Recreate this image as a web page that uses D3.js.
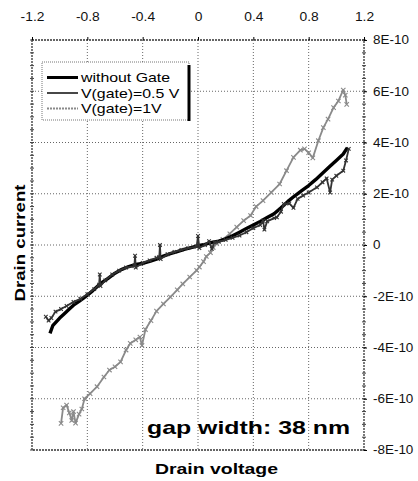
<!DOCTYPE html>
<html>
<head>
<meta charset="utf-8">
<script src="https://cdn.jsdelivr.net/npm/d3@7"></script>
<style>
body { margin: 0; background: #fff; }
text { font-family: "Liberation Sans", Arial, sans-serif; }
</style>
</head>
<body>
<div id="graphArea"></div>
<script>
// drain voltage in V, drain current in units of 1E-10 A
var vNoGate = [-1.07, -1.05, -1.0, -0.97, -0.93, -0.90, -0.86, -0.83, -0.80, -0.76, -0.72, -0.69, -0.65, -0.60, -0.55, -0.50, -0.45, -0.40, -0.35, -0.30, -0.25, -0.20, -0.15, -0.10, -0.05, 0.0, 0.05, 0.10, 0.15, 0.20, 0.25, 0.30, 0.35, 0.40, 0.45, 0.50, 0.55, 0.60, 0.65, 0.70, 0.75, 0.80, 0.85, 0.90, 0.95, 1.00, 1.05, 1.08];
var iNoGate = [-3.45, -3.15, -2.85, -2.70, -2.50, -2.35, -2.20, -2.08, -1.96, -1.78, -1.58, -1.45, -1.30, -1.10, -0.95, -0.84, -0.76, -0.72, -0.64, -0.55, -0.43, -0.34, -0.26, -0.17, -0.10, -0.03, 0.02, 0.10, 0.15, 0.24, 0.36, 0.50, 0.64, 0.78, 0.92, 1.07, 1.22, 1.45, 1.70, 1.92, 2.12, 2.32, 2.55, 2.80, 3.05, 3.30, 3.55, 3.80];

var vGate05 = [-1.10, -1.08, -1.06, -1.03, -0.99, -0.95, -0.90, -0.85, -0.80, -0.75, -0.715, -0.71, -0.705, -0.67, -0.62, -0.57, -0.52, -0.46, -0.455, -0.45, -0.40, -0.35, -0.30, -0.28, -0.275, -0.27, -0.22, -0.17, -0.12, -0.07, -0.01, 0.0, 0.01, 0.05, 0.08, 0.10, 0.12, 0.15, 0.20, 0.25, 0.30, 0.35, 0.40, 0.45, 0.47, 0.48, 0.50, 0.55, 0.57, 0.60, 0.62, 0.66, 0.69, 0.72, 0.76, 0.80, 0.86, 0.90, 0.93, 0.955, 0.97, 1.00, 1.05, 1.07, 1.09];
var iGate05 = [-2.80, -2.95, -2.85, -2.60, -2.50, -2.38, -2.22, -2.10, -1.92, -1.72, -1.55, -1.15, -1.60, -1.38, -1.15, -1.00, -0.88, -0.82, -0.42, -0.88, -0.70, -0.60, -0.50, -0.47, 0.0, -0.55, -0.36, -0.27, -0.19, -0.12, -0.06, 0.35, -0.12, 0.0, 0.15, -0.15, 0.10, 0.12, 0.20, 0.28, 0.37, 0.50, 0.66, 0.78, 0.95, 0.60, 0.92, 1.05, 1.08, 1.30, 1.60, 1.62, 1.45, 1.80, 1.93, 2.05, 2.25, 2.45, 2.60, 2.05, 2.55, 2.70, 2.90, 3.30, 3.75];

var vGate1 = [-0.99, -0.975, -0.95, -0.93, -0.913, -0.90, -0.885, -0.86, -0.84, -0.82, -0.78, -0.73, -0.68, -0.64, -0.60, -0.56, -0.52, -0.49, -0.45, -0.42, -0.405, -0.38, -0.34, -0.30, -0.25, -0.20, -0.15, -0.11, -0.06, -0.01, 0.01, 0.04, 0.06, 0.09, 0.11, 0.135, 0.18, 0.23, 0.28, 0.33, 0.38, 0.42, 0.47, 0.53, 0.59, 0.64, 0.69, 0.74, 0.77, 0.80, 0.83, 0.87, 0.906, 0.94, 0.98, 1.015, 1.05, 1.065, 1.075];
var iGate1 = [-6.96, -6.35, -6.25, -6.55, -6.85, -6.50, -6.95, -6.60, -6.40, -6.00, -5.80, -5.53, -5.15, -4.88, -4.75, -4.56, -4.10, -3.84, -3.70, -3.59, -3.92, -3.30, -2.95, -2.58, -2.30, -2.03, -1.75, -1.52, -1.25, -0.99, -0.86, -0.65, -0.45, -0.30, -0.10, 0.05, 0.22, 0.44, 0.70, 0.95, 1.15, 1.50, 1.73, 2.05, 2.38, 2.90, 3.42, 3.70, 3.75, 3.60, 3.40, 4.07, 4.58, 4.91, 5.36, 5.62, 6.05, 5.85, 5.49];

var xTicks = [-1.2, -0.8, -0.4, 0, 0.4, 0.8, 1.2];
var yTicks = [-8, -6, -4, -2, 0, 2, 4, 6, 8];
var legendLabels = ["without Gate", "V(gate)=0.5 V", "V(gate)=1V"];

function stretch(sel, k) {
    sel.each(function() {
        var len = this.getComputedTextLength();
        d3.select(this).attr('textLength', len * k).attr('lengthAdjust', 'spacingAndGlyphs');
    });
}

function visualize() {
    var w = 418, h = 481;
    var left = 32, right = 364, top = 40, bottom = 450;

    const svg = d3.select("#graphArea").append("svg").attr("width", w).attr("height", h);

    var xScale = d3.scaleLinear().domain([-1.2, 1.2]).range([left, right]);
    var yScale = d3.scaleLinear().domain([-8, 8]).range([bottom, top]);

    // dotted grid
    svg.append('g').selectAll('line.vg')
        .data(xTicks.slice(1, -1)).enter().append('line')
        .attr('x1', d => xScale(d)).attr('x2', d => xScale(d))
        .attr('y1', top).attr('y2', bottom)
        .style('stroke', '#666').style('stroke-width', 1).style('stroke-dasharray', '1,2');
    svg.append('g').selectAll('line.hg')
        .data(yTicks.slice(1, -1)).enter().append('line')
        .attr('x1', left).attr('x2', right)
        .attr('y1', d => yScale(d)).attr('y2', d => yScale(d))
        .style('stroke', '#666').style('stroke-width', 1).style('stroke-dasharray', '1,2');

    svg.append('rect')
        .attr('x', left).attr('y', top).attr('width', right - left).attr('height', bottom - top)
        .style('fill', 'none').style('stroke', '#333').style('stroke-width', 1.3).style('stroke-dasharray', '2,1');

    // minor ticks on left and right borders
    var minor = d3.range(-8, 8.01, 0.5);
    [left, right].forEach(function(xp) {
        svg.append('g').selectAll('line')
            .data(minor).enter().append('line')
            .attr('x1', xp - 2).attr('x2', xp + 2)
            .attr('y1', d => yScale(d)).attr('y2', d => yScale(d))
            .style('stroke', '#444').style('stroke-width', 1);
    });

    var xAxis = d3.axisTop(xScale).tickValues(xTicks).tickSize(3).tickPadding(16).tickFormat(d => String(d));
    var xAxisGroup = svg.append('g').attr('transform', 'translate(0,' + top + ')').call(xAxis);
    xAxisGroup.select('.domain').remove();
    xAxisGroup.selectAll('text').style('font-size', '12px').style('fill', '#111');
    stretch(xAxisGroup.selectAll('text'), 1.15);

    var yAxis = d3.axisRight(yScale).tickValues(yTicks).tickSize(3).tickPadding(6)
        .tickFormat(d => d === 0 ? "0" : d + "E-10");
    var yAxisGroup = svg.append('g').attr('transform', 'translate(' + right + ',0)').call(yAxis);
    yAxisGroup.select('.domain').remove();
    yAxisGroup.selectAll('text').style('font-size', '12px').style('fill', '#111');
    stretch(yAxisGroup.selectAll('text'), 1.12);

    var line = d3.line().x(d => xScale(d.v)).y(d => yScale(d.i));

    var series = [
        { name: legendLabels[2], v: vGate1, i: iGate1, color: '#8a8a8a', width: 1.8, mark: 2.2 },
        { name: legendLabels[0], v: vNoGate, i: iNoGate, color: '#000', width: 3.4, mark: 0 },
        { name: legendLabels[1], v: vGate05, i: iGate05, color: '#333', width: 1.8, mark: 1.8 }
    ];

    series.forEach(function(s) {
        var pts = s.v.map((v, k) => ({ v: v, i: s.i[k] }));
        svg.append('path').datum(pts)
            .attr('d', line)
            .style('fill', 'none').style('stroke', s.color).style('stroke-width', s.width)
            .style('stroke-linejoin', 'round');
        if (s.mark) {
            var m = s.mark;
            svg.append('g').selectAll('path')
                .data(pts).enter().append('path')
                .attr('transform', d => 'translate(' + xScale(d.v) + ',' + yScale(d.i) + ')')
                .attr('d', 'M' + (-m) + ',' + (-m) + 'L' + m + ',' + m + 'M' + (-m) + ',' + m + 'L' + m + ',' + (-m))
                .style('stroke', s.color).style('stroke-width', 1.1);
        }
    });

    // legend
    var legend = svg.append('g');
    legend.append('rect')
        .attr('x', 42).attr('y', 62).attr('width', 147).attr('height', 58)
        .style('fill', '#fff').style('stroke', '#777').style('stroke-width', 1).style('stroke-dasharray', '1,1');
    legend.append('line')
        .attr('x1', 189).attr('x2', 189).attr('y1', 65).attr('y2', 121)
        .style('stroke', '#000').style('stroke-width', 3);

    var legendStyles = [
        { color: '#000', width: 3, dash: null },
        { color: '#333', width: 1.8, dash: null },
        { color: '#8a8a8a', width: 1.8, dash: '2,1' }
    ];
    legendLabels.forEach(function(label, k) {
        var base = 82 + k * 15.5;
        legend.append('line')
            .attr('x1', 47).attr('x2', 78).attr('y1', base - 4.5).attr('y2', base - 4.5)
            .style('stroke', legendStyles[k].color).style('stroke-width', legendStyles[k].width)
            .style('stroke-dasharray', legendStyles[k].dash);
        legend.append('text')
            .attr('x', 81).attr('y', base)
            .style('font-size', '13px').style('fill', '#000')
            .text(label);
    });
    stretch(legend.selectAll('text'), 1.22);

    svg.append('text')
        .attr('x', 147).attr('y', 434)
        .attr('textLength', 203).attr('lengthAdjust', 'spacingAndGlyphs')
        .style('font-size', '19px').style('font-weight', 'bold')
        .text('gap width: 38 nm');

    svg.append('text')
        .attr('x', 155).attr('y', 474)
        .attr('textLength', 123).attr('lengthAdjust', 'spacingAndGlyphs')
        .style('font-size', '14px').style('font-weight', 'bold')
        .text('Drain voltage');

    svg.append('text')
        .attr('transform', 'translate(25,243) rotate(-90)')
        .attr('text-anchor', 'middle')
        .attr('textLength', 117).attr('lengthAdjust', 'spacingAndGlyphs')
        .style('font-size', '14px').style('font-weight', 'bold')
        .text('Drain current');
}

document.addEventListener('DOMContentLoaded', () => {
    visualize();
});
</script>
</body>
</html>
